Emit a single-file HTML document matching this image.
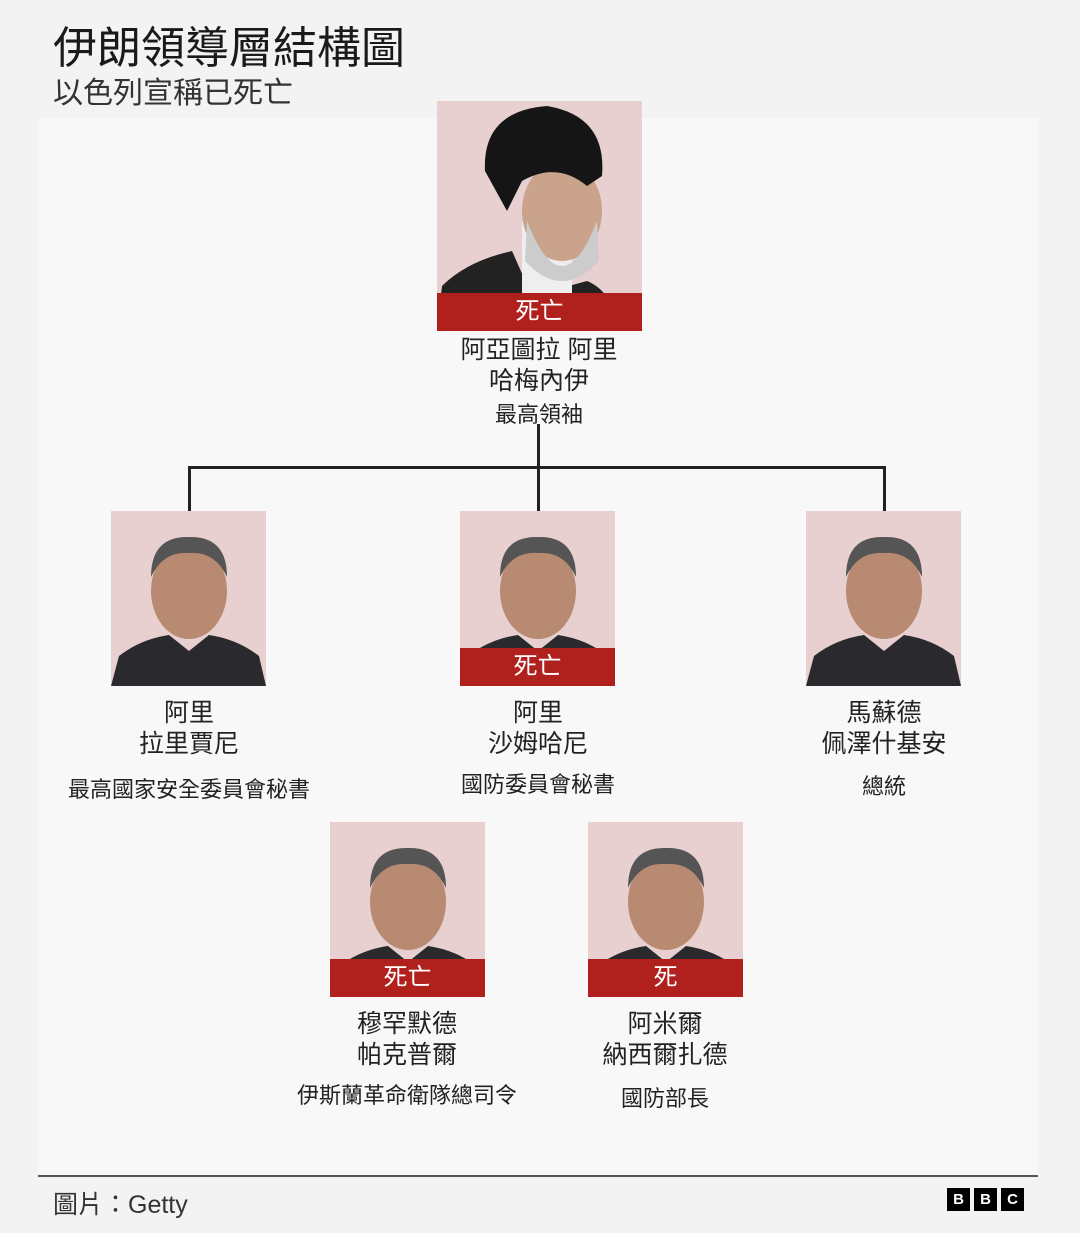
<!DOCTYPE html>
<html><head><meta charset="utf-8"><style>
body{margin:0;width:1080px;height:1233px;background:#f3f3f3;font-family:"Liberation Sans","Noto Sans CJK TC",sans-serif;color:#222;position:relative;overflow:hidden}
.a{position:absolute}
.panel{left:38px;top:118px;width:1000px;height:1058px;background:#f8f8f8}
.ph{position:absolute;background:#e8d0d0;overflow:hidden}
.band{position:absolute;left:0;right:0;bottom:0;height:38px;background:#b0201c;color:#fff;font-size:24px;text-align:center;line-height:38px}
.t{position:absolute;text-align:center;white-space:nowrap;transform:translateX(-50%)}
.n{font-size:25px;line-height:31px}
.s{font-size:22px}
.ln{position:absolute;background:#222}
</style></head><body>
<div class="a panel"></div>
<div class="a" style="left:53px;top:12px;font-size:44px;color:#1a1a1a">伊朗領導層結構圖</div>
<div class="a" style="left:53px;top:68px;font-size:30px;color:#333">以色列宣稱已死亡</div>

<div class="ln" style="left:188px;top:466px;width:697px;height:3px"></div>
<div class="ln" style="left:537px;top:424px;width:3px;height:88px"></div>
<div class="ln" style="left:188px;top:466px;width:3px;height:46px"></div>
<div class="ln" style="left:883px;top:466px;width:3px;height:46px"></div>

<svg width="0" height="0" style="position:absolute"><defs>
<g id="p"><ellipse cx="78" cy="80" rx="38" ry="48" fill="#b88a72"/><path d="M40 66 Q40 25 78 26 Q116 25 116 66 Q104 40 78 42 Q52 40 40 66Z" fill="#555"/><path d="M0 175 L8 145 Q30 128 58 124 L78 140 L98 124 Q126 128 148 145 L155 175Z" fill="#2a2a2e"/></g>
</defs></svg>

<div class="ph" style="left:437px;top:101px;width:205px;height:230px">
<svg width="205" height="230"><path d="M0 230 L5 185 Q30 160 75 150 L95 195 L150 180 Q175 190 185 230Z" fill="#222"/><rect x="85" y="120" width="50" height="110" fill="#eee"/><ellipse cx="125" cy="110" rx="40" ry="50" fill="#c9a38c"/><path d="M90 120 Q125 210 160 120 L162 160 Q125 200 88 160Z" fill="#ccc"/><path d="M48 70 Q45 10 110 5 Q170 15 165 75 L150 85 Q120 60 85 80 L70 110Z" fill="#151515"/></svg>
<div class="band">死亡</div></div>
<div class="t n" style="left:539px;top:335px">阿亞圖拉 阿里<br>哈梅內伊</div>
<div class="t s" style="left:539px;top:397px">最高領袖</div>

<div class="ph" style="left:111px;top:511px;width:155px;height:175px"><svg width="155" height="175"><use href="#p"/></svg></div>
<div class="t n" style="left:189px;top:698px">阿里<br>拉里賈尼</div>
<div class="t s" style="left:189px;top:772px">最高國家安全委員會秘書</div>

<div class="ph" style="left:460px;top:511px;width:155px;height:175px"><svg width="155" height="175"><use href="#p"/></svg><div class="band">死亡</div></div>
<div class="t n" style="left:538px;top:698px">阿里<br>沙姆哈尼</div>
<div class="t s" style="left:538px;top:767px">國防委員會秘書</div>

<div class="ph" style="left:806px;top:511px;width:155px;height:175px"><svg width="155" height="175"><use href="#p"/></svg></div>
<div class="t n" style="left:884px;top:698px">馬蘇德<br>佩澤什基安</div>
<div class="t s" style="left:884px;top:769px">總統</div>

<div class="ph" style="left:330px;top:822px;width:155px;height:175px"><svg width="155" height="175"><use href="#p"/></svg><div class="band">死亡</div></div>
<div class="t n" style="left:407px;top:1009px">穆罕默德<br>帕克普爾</div>
<div class="t s" style="left:407px;top:1078px">伊斯蘭革命衛隊總司令</div>

<div class="ph" style="left:588px;top:822px;width:155px;height:175px"><svg width="155" height="175"><use href="#p"/></svg><div class="band">死</div></div>
<div class="t n" style="left:665px;top:1009px">阿米爾<br>納西爾扎德</div>
<div class="t s" style="left:665px;top:1081px">國防部長</div>

<div class="ln" style="left:38px;top:1175px;width:1000px;height:2px;background:#555"></div>
<div class="a" style="left:53px;top:1185px;font-size:25px;color:#333">圖片：Getty</div>
<div class="a" style="left:947px;top:1188px;display:flex;gap:4px">
<span style="width:23px;height:23px;background:#000;color:#fff;font:bold 15px 'Liberation Sans';text-align:center;line-height:23px">B</span>
<span style="width:23px;height:23px;background:#000;color:#fff;font:bold 15px 'Liberation Sans';text-align:center;line-height:23px">B</span>
<span style="width:23px;height:23px;background:#000;color:#fff;font:bold 15px 'Liberation Sans';text-align:center;line-height:23px">C</span></div>
</body></html>
